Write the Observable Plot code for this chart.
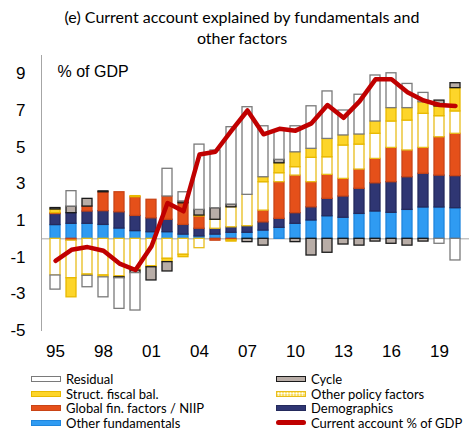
<!DOCTYPE html>
<html><head><meta charset="utf-8">
<script src="https://cdn.jsdelivr.net/npm/d3@7"></script>
<script src="https://cdn.jsdelivr.net/npm/@observablehq/plot@0.6"></script>
<style>
body{margin:0;background:#fff;}
#wrap{position:relative;width:470px;height:432px;overflow:hidden;font-family:Lato,"Open Sans",sans-serif;color:#000;}
#title{position:absolute;left:0;top:6px;width:484px;text-align:center;font-size:16px;line-height:21px;}
#chart{position:absolute;left:0;top:48px;}
.li{position:absolute;font-size:13px;line-height:14px;white-space:nowrap;}
.sw{position:absolute;width:30px;height:6px;top:4px;left:-35px;box-sizing:border-box;}
</style>
</head><body>
<div id="wrap">
<div id="title">(e) Current account explained by fundamentals and<br>other factors</div>
<div id="chart"></div>
<div id="legend"></div>
</div>
<script>
const years = [1995,1996,1997,1998,1999,2000,2001,2002,2003,2004,2005,2006,2007,2008,2009,2010,2011,2012,2013,2014,2015,2016,2017,2018,2019,2020];
const otherFundamentals = [0.75,0.82,0.82,0.76,0.56,0.42,0.36,0.36,0.23,0.13,0.23,0.33,0.33,0.45,0.6,0.82,1.0,1.23,1.15,1.36,1.49,1.42,1.58,1.71,1.71,1.67];
const demographics = [0.6,0.58,0.67,0.75,0.89,0.83,0.76,0.68,0.53,0.42,0.32,0.3,0.36,0.45,0.49,0.58,0.72,0.95,1.16,1.37,1.54,1.67,1.78,1.84,1.74,1.75];
const globalFin = [0.05,-0.1,0.27,1.03,1.09,1.02,1.01,1.27,1.18,0.67,-0.1,-0.08,0,0.64,2.0,2.05,1.37,1.31,0.96,1.05,1.33,1.87,1.46,1.41,2.09,2.31];
const otherPolicy = [-2.0,-2.05,-1.95,-2.0,-2.05,-1.73,-1.5,-1.09,-0.87,-0.51,0.49,1.09,1.71,1.55,0.49,0.46,1.33,0.96,1.82,1.36,1.37,1.44,1.63,1.86,1.15,1.22];
const structFiscal = [0.2,-1.04,-0.07,-0.1,-0.05,0.06,-0.05,-0.18,-0.13,0.05,0,-0.07,0,0.27,0.54,0.81,0.49,1.0,0.55,0.55,0.67,0.73,0.68,0.63,0.53,1.27];
const cycle = [0.08,0.36,0.42,0.05,-0.05,-0.14,-0.72,-0.51,0.1,0.31,0.63,0.15,-0.18,-0.37,0.19,-0.18,-0.91,-0.76,-0.31,-0.37,-0.15,-0.27,-0.37,-0.15,0.32,0.27];
const residual = [-0.77,0.84,-0.62,-1.09,-1.67,-2.04,0,1.51,0.5,3.56,3.15,4.22,4.78,2.78,1.59,1.42,2.32,2.59,1.36,2.17,2.51,1.9,1.32,0.51,-0.27,-1.18];
const currentAccount = [-1.2,-0.6,-0.45,-0.65,-1.35,-1.7,-0.4,1.95,1.5,4.6,4.75,5.9,7.0,5.7,6.0,5.9,6.3,7.3,6.6,7.5,8.7,8.7,8.0,7.55,7.3,7.25];
const yTicks = [-5,-3,-1,1,3,5,7,9];

const series = [
  {key:"Other fundamentals", vals:otherFundamentals, fill:"#2f9bf2", stroke:"#1f86dd"},
  {key:"Demographics", vals:demographics, fill:"#2f3673", stroke:"#242a5c"},
  {key:"Global fin. factors / NIIP", vals:globalFin, fill:"#e5501a", stroke:"#c94416"},
  {key:"Other policy factors", vals:otherPolicy, fill:"#ffffff", stroke:"#e8bd1c"},
  {key:"Struct. fiscal bal.", vals:structFiscal, fill:"#fdd52a", stroke:"#e8b900"},
  {key:"Cycle", vals:cycle, fill:"#b8ada7", stroke:"#1a1a1a"},
  {key:"Residual", vals:residual, fill:"#ffffff", stroke:"#7a7a7a"}
];
const rows = [];
years.forEach((yr,i)=>series.forEach(s=>rows.push({year:yr, series:s.key, value:s.vals[i], fill:s.fill, stroke:s.stroke})));
const caRows = years.map((yr,i)=>({year:yr, ca:currentAccount[i]}));

const plot = Plot.plot({
  width:470, height:320,
  marginLeft:41, marginRight:1, marginTop:7, marginBottom:38,
  style:{fontFamily:"'Liberation Sans',Arial,sans-serif", fontSize:"17px", background:"transparent", color:"#000"},
  color:{type:"identity"},
  x:{type:"band", domain:years, paddingInner:0.4, paddingOuter:0.12, tickSize:0, tickPadding:14,
     tickFormat:d=>((d-1995)%3===0 ? String(d).slice(2) : ""), label:null},
  y:{domain:[-5,10], ticks:yTicks, tickSize:0, tickPadding:16, tickFormat:d=>String(d), label:null},
  marks:[
    Plot.frame({anchor:"left", stroke:"#a6a6a6"}),
    Plot.ruleY([0], {stroke:"#a6a6a6", strokeWidth:1}),
    Plot.barY(rows, Plot.stackY({x:"year", y:"value", fill:"fill", stroke:"stroke", strokeWidth:1.3})),
    Plot.line(caRows, {x:"year", y:"ca", stroke:"#c00000", strokeWidth:4.5, strokeLinejoin:"round", strokeLinecap:"round"}),
    Plot.text(["% of GDP"], {frameAnchor:"top-left", dx:16, dy:10, fontSize:16, textAnchor:"start"})
  ]
});
document.getElementById("chart").appendChild(plot);

const legendItems = [
  {label:"Residual", col:0, row:0, css:"background:#fff;border:1.3px solid #7a7a7a;"},
  {label:"Cycle", col:1, row:0, css:"background:#b8ada7;border:1.3px solid #1a1a1a;"},
  {label:"Struct. fiscal bal.", col:0, row:1, css:"background:#fdd52a;border:1px solid #e8b900;"},
  {label:"Other policy factors", col:1, row:1, css:"background-color:#f9df6a;background-image:radial-gradient(#fff 45%,transparent 50%);background-size:3px 3px;border:1px solid #e8bd1c;"},
  {label:"Global fin. factors / NIIP", col:0, row:2, css:"background:#e5501a;border:1px solid #c94416;"},
  {label:"Demographics", col:1, row:2, css:"background:#2f3673;border:1px solid #242a5c;"},
  {label:"Other fundamentals", col:0, row:3, css:"background:#2f9bf2;border:1px solid #1f86dd;"},
  {label:"Current account % of GDP", col:1, row:3, css:"background:#c00000;height:5px;border-radius:3px;top:4.5px;"}
];
const leg = document.getElementById("legend");
legendItems.forEach(it=>{
  const d = document.createElement("div");
  d.className = "li";
  d.style.left = (it.col ? 311 : 66) + "px";
  d.style.top = (372 + it.row*14.5) + "px";
  d.innerHTML = '<span class="sw" style="'+it.css+'"></span>' + it.label;
  leg.appendChild(d);
});
</script>
</body></html>
